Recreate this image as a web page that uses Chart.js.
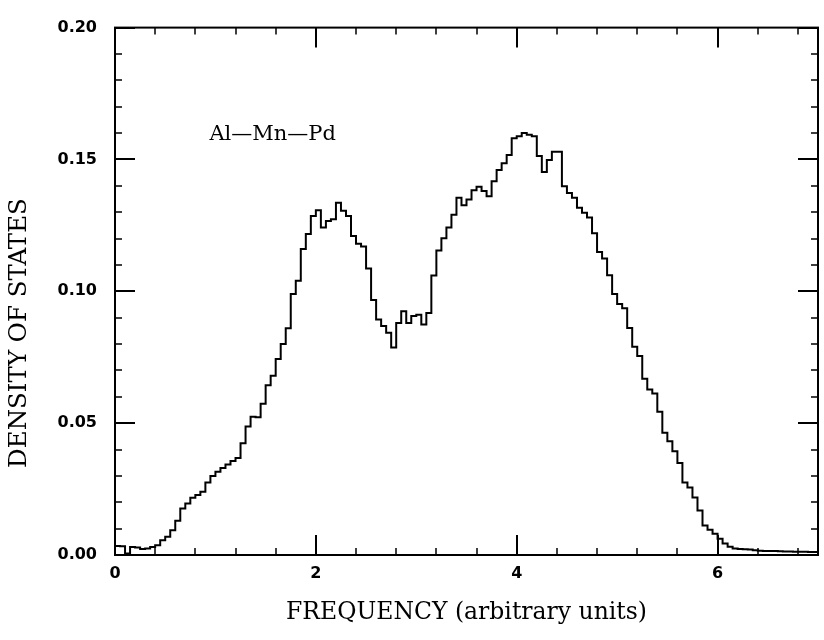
<!DOCTYPE html>
<html>
<head>
<meta charset="utf-8">
<script src="https://cdn.jsdelivr.net/npm/chart.js@4/dist/chart.umd.min.js"></script>
<style>
  body { margin: 0; background: #fff; }
  canvas { display: block; }
</style>
</head>
<body>
<canvas id="chart" width="824" height="640"></canvas>
<script>
// bin start (frequency, arbitrary units)
const freq = [
  0.00, 0.05, 0.10, 0.15, 0.20, 0.25, 0.30, 0.35, 0.40, 0.45,
  0.50, 0.55, 0.60, 0.65, 0.70, 0.75, 0.80, 0.85, 0.90, 0.95,
  1.00, 1.05, 1.10, 1.15, 1.20, 1.25, 1.30, 1.35, 1.40, 1.45,
  1.50, 1.55, 1.60, 1.65, 1.70, 1.75, 1.80, 1.85, 1.90, 1.95,
  2.00, 2.05, 2.10, 2.15, 2.20, 2.25, 2.30, 2.35, 2.40, 2.45,
  2.50, 2.55, 2.60, 2.65, 2.70, 2.75, 2.80, 2.85, 2.90, 2.95,
  3.00, 3.05, 3.10, 3.15, 3.20, 3.25, 3.30, 3.35, 3.40, 3.45,
  3.50, 3.55, 3.60, 3.65, 3.70, 3.75, 3.80, 3.85, 3.90, 3.95,
  4.00, 4.05, 4.10, 4.15, 4.20, 4.25, 4.30, 4.35, 4.40, 4.45,
  4.50, 4.55, 4.60, 4.65, 4.70, 4.75, 4.80, 4.85, 4.90, 4.95,
  5.00, 5.05, 5.10, 5.15, 5.20, 5.25, 5.30, 5.35, 5.40, 5.45,
  5.50, 5.55, 5.60, 5.65, 5.70, 5.75, 5.80, 5.85, 5.90, 5.95,
  6.00, 6.05, 6.10, 6.15, 6.20, 6.25, 6.30, 6.35, 6.40, 6.45,
  6.50, 6.55, 6.60, 6.65, 6.70, 6.75, 6.80, 6.85, 6.90, 6.95,
  7.00
];

// density of states per bin
const dos = [
  0.0034, 0.0033, 0.0006, 0.0030, 0.0028, 0.0023, 0.0025, 0.0030, 0.0037, 0.0056,
  0.0069, 0.0094, 0.0130, 0.0176, 0.0195, 0.0217, 0.0228, 0.0240, 0.0275, 0.0300,
  0.0316, 0.0330, 0.0343, 0.0356, 0.0368, 0.0424, 0.0487, 0.0524, 0.0522, 0.0574,
  0.0644, 0.0680, 0.0743, 0.0800, 0.0860, 0.0990, 0.1040, 0.1160, 0.1217, 0.1286,
  0.1307, 0.1242, 0.1267, 0.1273, 0.1336, 0.1305, 0.1286, 0.1210, 0.1180, 0.1170,
  0.1086, 0.0967, 0.0893, 0.0868, 0.0843, 0.0787, 0.0880, 0.0924, 0.0880, 0.0906,
  0.0911, 0.0874, 0.0918, 0.1060, 0.1155, 0.1201, 0.1242, 0.1290, 0.1355, 0.1326,
  0.1348, 0.1383, 0.1396, 0.1380, 0.1360, 0.1417, 0.1460, 0.1486, 0.1517, 0.1580,
  0.1588, 0.1600, 0.1594, 0.1588, 0.1513, 0.1452, 0.1498, 0.1529, 0.1529, 0.1398,
  0.1373, 0.1355, 0.1317, 0.1298, 0.1280, 0.1220, 0.1149, 0.1124, 0.1061, 0.0990,
  0.0952, 0.0936, 0.0861, 0.0790, 0.0755, 0.0668, 0.0628, 0.0612, 0.0543, 0.0464,
  0.0431, 0.0393, 0.0349, 0.0275, 0.0256, 0.0218, 0.0169, 0.0112, 0.0096, 0.0081,
  0.0062, 0.0044, 0.0031, 0.0025, 0.0023, 0.0022, 0.0021, 0.0018, 0.0016, 0.0015,
  0.0015, 0.0015, 0.0014, 0.0013, 0.0013, 0.0012, 0.0012, 0.0012, 0.0011, 0.0011,
  0.0011
];

const xTicks = [0, 2, 4, 6];
const yTicks = [0, 0.05, 0.10, 0.15, 0.20];
const xMinorStep = 0.4;
const yMinorStep = 0.01;

const xTitle = 'FREQUENCY (arbitrary units)';
const yTitle = 'DENSITY OF STATES';
const sampleLabel = 'Al\u2014Mn\u2014Pd';

const serif = '"DejaVu Serif", serif';
const tickFont = { family: '"DejaVu Sans", sans-serif', size: 16, weight: 'bold' };

// box frame, inward ticks on all four sides, titles and label
const frameTicks = {
  id: 'frameTicks',
  afterDatasetsDraw(chart) {
    const { ctx, chartArea: a, scales: { x, y } } = chart;
    ctx.save();
    ctx.strokeStyle = '#000';
    ctx.lineWidth = 2;
    ctx.strokeRect(a.left, a.top, a.right - a.left, a.bottom - a.top);

    ctx.lineWidth = 1.5;
    ctx.beginPath();
    for (let v = 0; v <= 7.001; v += xMinorStep) {
      const p = Math.round(x.getPixelForValue(v));
      ctx.moveTo(p, a.bottom); ctx.lineTo(p, a.bottom - 7);
      ctx.moveTo(p, a.top); ctx.lineTo(p, a.top + 7);
    }
    for (let v = 0; v <= 0.2001; v += yMinorStep) {
      const p = Math.round(y.getPixelForValue(v));
      ctx.moveTo(a.left, p); ctx.lineTo(a.left + 7, p);
      ctx.moveTo(a.right, p); ctx.lineTo(a.right - 7, p);
    }
    ctx.stroke();

    ctx.lineWidth = 2;
    ctx.beginPath();
    xTicks.forEach(v => {
      const p = Math.round(x.getPixelForValue(v));
      ctx.moveTo(p, a.bottom); ctx.lineTo(p, a.bottom - 20);
      ctx.moveTo(p, a.top); ctx.lineTo(p, a.top + 20);
    });
    yTicks.forEach(v => {
      const p = Math.round(y.getPixelForValue(v));
      ctx.moveTo(a.left, p); ctx.lineTo(a.left + 20, p);
      ctx.moveTo(a.right, p); ctx.lineTo(a.right - 20, p);
    });
    ctx.stroke();

    ctx.fillStyle = '#000';
    ctx.textAlign = 'center';
    ctx.textBaseline = 'middle';
    ctx.font = '23.5px ' + serif;
    ctx.fillText(xTitle, (a.left + a.right) / 2, a.bottom + 58);

    ctx.save();
    ctx.font = '24.5px ' + serif;
    ctx.translate(a.left - 95, 333);
    ctx.rotate(-Math.PI / 2);
    ctx.fillText(yTitle, 0, 0);
    ctx.restore();

    ctx.font = '21px ' + serif;
    ctx.textAlign = 'left';
    ctx.fillText(sampleLabel, x.getPixelForValue(0.94), y.getPixelForValue(0.1595));
    ctx.restore();
  }
};

new Chart(document.getElementById('chart'), {
  type: 'line',
  data: {
    datasets: [{
      data: freq.map((f, i) => ({ x: f, y: dos[i] })),
      borderColor: '#000',
      borderWidth: 2,
      pointRadius: 0,
      stepped: true,
      fill: false
    }]
  },
  options: {
    responsive: false,
    animation: false,
    layout: { padding: { left: 0, right: 6, top: 14, bottom: 0 } },
    plugins: { legend: { display: false }, tooltip: { enabled: false } },
    scales: {
      x: {
        type: 'linear',
        min: 0,
        max: 7,
        grid: { display: false, drawTicks: false },
        border: { display: false },
        afterFit: s => { s.height = 85; },
        afterBuildTicks: s => { s.ticks = xTicks.map(v => ({ value: v })); },
        ticks: {
          padding: 9,
          color: '#000',
          font: tickFont,
          callback: v => String(v)
        }
      },
      y: {
        min: 0,
        max: 0.2,
        grid: { display: false, drawTicks: false },
        border: { display: false },
        afterFit: s => { s.width = 115; },
        afterBuildTicks: s => { s.ticks = yTicks.map(v => ({ value: v })); },
        ticks: {
          padding: 18,
          color: '#000',
          font: tickFont,
          callback: v => Number(v).toFixed(2)
        }
      }
    }
  },
  plugins: [frameTicks]
});
</script>
</body>
</html>
